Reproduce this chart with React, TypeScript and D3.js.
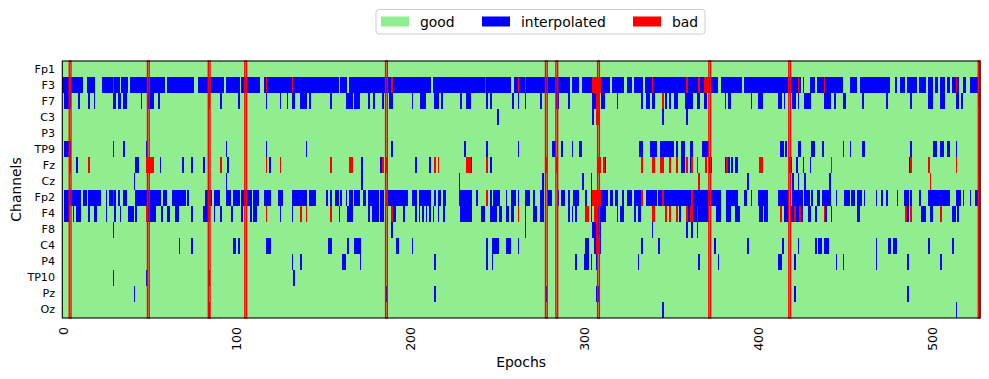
import React from "react";
import * as d3 from "d3";

type Run = [number, number];

const channels = ["Fp1", "F3", "F7", "C3", "P3", "TP9", "Fz", "Cz", "Fp2", "F4", "F8", "C4", "P4", "TP10", "Pz", "Oz"];
const nEpochs = 528;
const xTickValues = [0, 100, 200, 300, 400, 500];
const badEpochs = [4, 49, 84, 105, 186, 278, 284, 308, 372, 418, 527];

// interpolated (blue) runs per channel, inclusive epoch ranges
const interpFp1: Run[] = [];
const interpF3: Run[] = [[0,11],[14,18],[23,32],[34,37],[39,58],[60,75],[78,92],[94,101],[103,113],[116,158],[160,163],[165,211],[213,242],[244,257],[260,291],[293,296],[299,314],[316,322],[325,327],[329,333],[335,376],[379,390],[392,424],[426,426],[430,432],[434,448],[453,456],[459,475],[479,479],[482,484],[486,491],[493,496],[498,500],[502,503],[505,507],[509,510],[512,515],[518,519],[522,526]];
const interpF7: Run[] = [[1,4],[9,9],[15,15],[18,18],[29,30],[32,33],[35,36],[45,45],[49,52],[55,55],[91,91],[101,101],[117,117],[125,125],[129,129],[132,133],[137,140],[142,142],[154,154],[163,166],[168,170],[176,176],[179,179],[184,184],[188,189],[201,201],[206,208],[214,216],[218,218],[229,229],[232,234],[244,244],[246,246],[259,259],[262,262],[266,266],[275,275],[284,285],[291,291],[305,306],[310,311],[319,319],[333,333],[336,337],[339,340],[347,347],[349,349],[352,353],[358,362],[365,366],[369,370],[381,381],[383,384],[396,396],[400,402],[412,413],[415,415],[420,421],[423,423],[427,430],[438,441],[444,444],[449,450],[460,460],[474,474],[488,488],[498,500],[505,507],[514,515],[517,517]];
const interpC3: Run[] = [[250,250],[305,305],[345,345],[359,359]];
const interpP3: Run[] = [];
const interpTP9: Run[] = [[1,4],[29,29],[35,35],[48,48],[94,94],[117,117],[140,140],[189,189],[231,231],[244,244],[262,262],[282,283],[287,287],[293,293],[297,298],[332,333],[338,341],[344,351],[353,353],[356,357],[361,362],[368,371],[413,414],[416,416],[423,424],[431,432],[437,437],[449,449],[453,453],[460,461],[488,488],[501,502],[505,506],[509,510],[514,514]];
const interpFz: Run[] = [[8,8],[42,43],[56,56],[69,69],[74,74],[81,81],[95,95],[119,119],[172,172],[183,183],[203,203],[211,211],[235,235],[246,246],[312,312],[356,357],[361,361],[372,373],[381,381],[383,383],[385,385],[387,388],[419,419],[422,422],[426,426],[430,430],[487,487]];
const interpCz: Run[] = [[41,41],[94,94],[172,172],[228,228],[276,276],[299,299],[304,304],[394,394],[420,420],[423,423],[427,427],[441,441]];
const interpFp2: Run[] = [[1,10],[12,13],[15,21],[25,25],[27,30],[32,32],[35,36],[42,56],[58,59],[63,70],[72,72],[82,85],[87,90],[94,96],[98,101],[103,108],[110,112],[116,119],[124,126],[132,140],[142,145],[152,152],[154,154],[157,158],[160,160],[163,163],[165,166],[168,170],[173,174],[176,181],[183,184],[187,198],[201,203],[205,211],[214,214],[216,217],[219,220],[228,235],[238,238],[246,246],[248,250],[251,251],[255,255],[258,260],[262,262],[266,268],[271,271],[275,276],[279,281],[285,285],[287,288],[291,291],[294,296],[301,301],[304,304],[309,313],[315,316],[318,319],[322,322],[325,327],[329,332],[336,341],[343,344],[346,361],[363,378],[382,388],[392,393],[396,396],[400,405],[412,417],[420,425],[427,429],[431,431],[434,435],[437,441],[445,445],[450,452],[454,455],[457,459],[461,461],[468,468],[471,471],[474,474],[480,480],[484,486],[488,488],[493,493],[498,510],[514,516],[518,518],[522,522],[525,526]];
const interpF4: Run[] = [[1,3],[6,6],[8,10],[15,15],[18,19],[25,25],[30,30],[33,33],[38,40],[42,42],[49,53],[57,57],[60,61],[65,66],[74,74],[81,83],[87,87],[91,91],[97,97],[103,103],[108,108],[110,111],[125,125],[132,132],[159,159],[164,166],[176,176],[178,181],[183,184],[189,191],[196,196],[203,203],[205,205],[207,207],[209,209],[211,211],[213,213],[216,216],[219,219],[229,235],[241,242],[246,249],[251,252],[255,256],[258,259],[266,266],[271,272],[275,276],[291,291],[293,293],[295,295],[304,304],[308,312],[319,319],[321,322],[329,329],[331,332],[355,355],[360,360],[363,364],[366,371],[376,378],[382,384],[387,389],[401,402],[404,405],[415,417],[419,425],[429,430],[433,433],[439,439],[442,442],[457,458],[486,486],[494,496],[499,500],[512,513],[515,515]];
const interpF8: Run[] = [[29,29],[189,189],[266,266],[305,309],[339,339],[359,359],[362,362],[365,365]];
const interpC4: Run[] = [[67,67],[74,74],[98,99],[101,101],[117,119],[153,154],[164,164],[168,171],[192,193],[201,201],[244,244],[247,250],[255,257],[262,262],[301,302],[306,306],[309,309],[333,333],[343,343],[375,375],[394,394],[414,414],[423,423],[433,433],[435,436],[438,440],[468,468],[475,476],[478,479],[498,498],[512,512]];
const interpP4: Run[] = [[132,132],[137,137],[161,162],[171,171],[214,214],[244,244],[247,247],[295,295],[300,302],[304,304],[307,307],[331,331],[366,366],[377,377],[412,413],[421,421],[445,445],[449,449],[468,468],[486,486],[505,505]];
const interpTP10: Run[] = [[29,29],[48,48],[84,84],[133,133]];
const interpPz: Run[] = [[41,41],[186,186],[214,214],[278,278],[307,308],[421,421],[486,486]];
const interpOz: Run[] = [[84,84],[345,345],[514,514]];

// bad (red) cells per channel, inclusive epoch ranges
const badFp1: Run[] = [];
const badF3: Run[] = [[4,4],[29,29],[117,117],[132,132],[189,189],[243,243],[262,262],[266,266],[305,309],[339,339],[359,359],[366,366],[369,371],[423,423],[438,438],[514,514]];
const badF7: Run[] = [[84,84],[307,308],[345,345],[527,527]];
const badC3: Run[] = [[307,308]];
const badP3: Run[] = [];
const badTP9: Run[] = [];
const badFz: Run[] = [[4,4],[15,15],[48,52],[91,91],[117,117],[125,125],[154,154],[165,166],[184,184],[186,186],[214,214],[216,216],[232,234],[244,244],[278,278],[284,284],[308,309],[311,311],[333,333],[339,340],[344,345],[349,349],[353,353],[359,359],[362,362],[365,365],[370,370],[382,382],[401,402],[418,418],[442,442],[488,488],[498,498],[514,514]];
const badCz: Run[] = [[366,366],[499,499]];
const badFp2: Run[] = [[29,29],[186,186],[244,244],[305,309],[333,333],[345,345],[362,362]];
const badF4: Run[] = [[48,48],[84,84],[117,117],[137,137],[140,140],[154,154],[189,189],[262,262],[301,302],[306,307],[339,340],[347,347],[349,349],[353,353],[359,359],[361,362],[365,365],[413,413],[421,421],[424,424],[438,438],[485,485],[488,488],[505,505]];
const badF8: Run[] = [[307,307]];
const badC4: Run[] = [[307,308]];
const badP4: Run[] = [];
const badTP10: Run[] = [];
const badPz: Run[] = [];
const badOz: Run[] = [];

const interpolatedRuns = [interpFp1, interpF3, interpF7, interpC3, interpP3, interpTP9, interpFz, interpCz, interpFp2, interpF4, interpF8, interpC4, interpP4, interpTP10, interpPz, interpOz];
const badRuns = [badFp1, badF3, badF7, badC3, badP3, badTP9, badFz, badCz, badFp2, badF4, badF8, badC4, badP4, badTP10, badPz, badOz];

const legendItems = [
  { label: "good", color: "#90ee90" },
  { label: "interpolated", color: "#0000ff" },
  { label: "bad", color: "#ff0000" },
];

const W = 989;
const H = 379;
const M = { left: 62.3, right: 980, top: 61, bottom: 318 };
const FONT = "DejaVu Sans, sans-serif";

export default function App() {
  const x = d3.scaleLinear().domain([-0.5, nEpochs - 0.5]).range([M.left, M.right]);
  const y = d3.scaleBand<string>().domain(channels).range([M.top, M.bottom]);
  const step = x(1) - x(0);

  const legendX = [381, 482, 633];

  return (
    <svg width={W} height={H} style={{ position: "absolute", left: 0, top: 0, background: "#fff" }} fontFamily={FONT}>
      <g shapeRendering="crispEdges">
        <rect x={M.left} y={M.top} width={M.right - M.left} height={M.bottom - M.top} fill="#90ee90" />
        {channels.map((ch, i) => (
          <g key={ch}>
            {interpolatedRuns[i].map(([s, e], k) => (
              <rect key={"i" + k} x={x(s - 0.5)} width={x(e + 0.5) - x(s - 0.5)} y={y(ch)} height={y.bandwidth()} fill="#0000ff" />
            ))}
            {badRuns[i].map(([s, e], k) => (
              <rect key={"b" + k} x={x(s - 0.5)} width={x(e + 0.5) - x(s - 0.5)} y={y(ch)} height={y.bandwidth()} fill="#ff0000" />
            ))}
          </g>
        ))}
      </g>
      {badEpochs.map((e) => (
        <rect key={e} x={x(e - 0.5)} width={step} y={M.top} height={M.bottom - M.top} fill="none" stroke="#ff0000" strokeWidth={1.39} />
      ))}
      <rect x={M.left} y={M.top} width={M.right - M.left} height={M.bottom - M.top} fill="none" stroke="#000" strokeWidth={1.1} />
      {channels.map((ch) => (
        <text key={ch} x={55} y={(y(ch) as number) + y.bandwidth() / 2} textAnchor="end" dominantBaseline="central" fontSize={11.1} fill="#000">
          {ch}
        </text>
      ))}
      {xTickValues.map((v) => (
        <text key={v} transform={`translate(${x(v)},${327}) rotate(-90)`} textAnchor="end" dominantBaseline="central" fontSize={12.5} fill="#000">
          {v}
        </text>
      ))}
      <text x={(M.left + M.right) / 2} y={367} textAnchor="middle" fontSize={13.9} fill="#000">Epochs</text>
      <text transform={`translate(21,${(M.top + M.bottom) / 2}) rotate(-90)`} textAnchor="middle" fontSize={13.9} fill="#000">Channels</text>
      <rect x={376} y={9.5} width={329} height={24.5} rx={3} fill="#fff" fillOpacity={0.8} stroke="#cccccc" strokeWidth={1} />
      {legendItems.map((it, i) => (
        <g key={it.label}>
          <rect x={legendX[i]} y={16.5} width={28} height={10} fill={it.color} />
          <text x={legendX[i] + 39} y={21.5} dominantBaseline="central" fontSize={13.9} fill="#000">{it.label}</text>
        </g>
      ))}
    </svg>
  );
}
